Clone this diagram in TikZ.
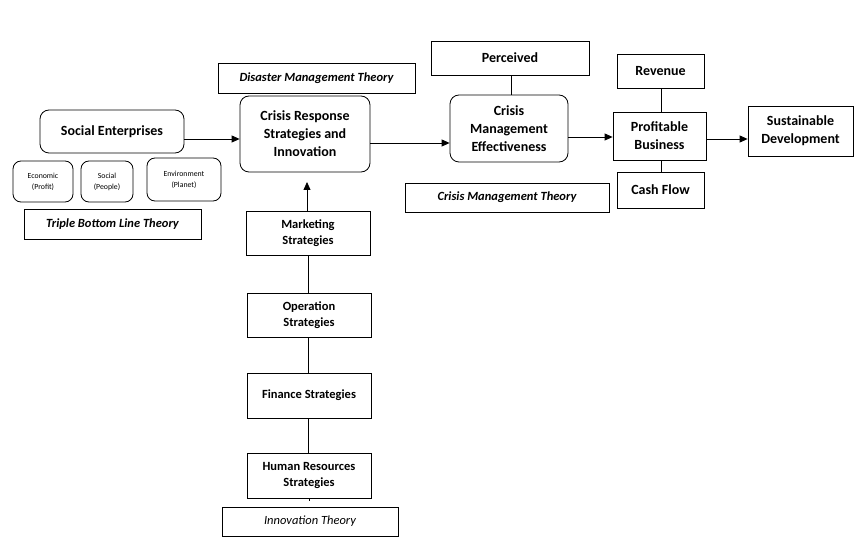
\documentclass[tikz,border=0pt]{standalone}
\usepackage{fontspec}
\setmainfont{Carlito}
\usetikzlibrary{arrows.meta}
\begin{document}
\begin{tikzpicture}[x=1pt,y=-1pt,
  box/.style={draw,line width=0.8pt,inner sep=0pt,align=center,font=\fontsize{14}{18}\selectfont\bfseries},
  rbox/.style={box,rounded corners=9pt},
  sbox/.style={draw,line width=0.8pt,inner sep=0pt,align=center,rounded corners=8pt,font=\fontsize{7.8}{11}\selectfont},
  mbox/.style={box,font=\fontsize{12.5}{16}\selectfont\bfseries},
  theory/.style={draw,line width=0.8pt,inner sep=0pt,align=center,font=\fontsize{12.5}{15}\selectfont\bfseries\itshape},
  lnk/.style={line width=0.8pt},
  arr/.style={line width=0.8pt,-{Triangle[length=8pt,width=7pt]}}]
\useasboundingbox (0,0) rectangle (854,537);
% left group
\node[rbox,minimum width=144pt,minimum height=43pt] (SE) at (112,131.5) {Social Enterprises};
\node[sbox,minimum width=60pt,minimum height=41pt] (eco) at (43,181.5) {Economic\\(Profit)};
\node[sbox,minimum width=52pt,minimum height=41pt] (soc) at (107,181.5) {Social\\(People)};
\node[sbox,minimum width=74pt,minimum height=43pt] (env) at (184,179.5) {Environment\\(Planet)};
\node[theory,minimum width=177pt,minimum height=30pt] (tbl) at (112.5,224) {Triple Bottom Line Theory};
% crisis response
\node[theory,minimum width=197pt,minimum height=30pt] (dmt) at (316.5,78) {Disaster Management Theory};
\node[rbox,minimum width=130pt,minimum height=76pt] (CRS) at (305,134) {Crisis Response\\Strategies and\\Innovation};
% effectiveness
\node[box,minimum width=158pt,minimum height=34pt] (per) at (510,58) {Perceived};
\node[rbox,minimum width=118pt,minimum height=67pt] (CME) at (509,128.5) {Crisis\\Management\\Effectiveness};
\node[theory,minimum width=204pt,minimum height=29pt] (cmt) at (507,197.5) {Crisis Management Theory};
% profitable
\node[box,minimum width=87pt,minimum height=34pt] (rev) at (660.5,71) {Revenue};
\node[box,minimum width=93pt,minimum height=48pt] (PB) at (659.5,136) {Profitable\\Business};
\node[box,minimum width=87pt,minimum height=36pt] (cf) at (660.5,190) {Cash Flow};
\node[box,minimum width=105pt,minimum height=50pt] (SD) at (800.5,131) {Sustainable\\Development};
% strategies
\node[mbox,minimum width=124pt,minimum height=44pt] (mkt) at (308,233) {Marketing\\Strategies};
\node[mbox,minimum width=124pt,minimum height=44pt] (op) at (309,315) {Operation\\Strategies};
\node[mbox,minimum width=124pt,minimum height=45pt] (fin) at (309,395.5) {Finance Strategies};
\node[mbox,minimum width=124pt,minimum height=45pt] (hr) at (309,475.5) {Human Resources\\Strategies};
\node[theory,font=\fontsize{12.5}{15}\selectfont\itshape,minimum width=176pt,minimum height=29pt] (inn) at (310,521.5) {Innovation Theory};
% connectors
\coordinate (crsTip) at (307,182);
\coordinate (hrStub) at (309,501);
\draw[arr] (SE.east |- 0,139) -- (CRS.west |- 0,139);
\draw[arr] (CRS.east |- 0,143) -- (CME.west |- 0,143);
\draw[arr] (CME.east |- 0,137) -- (PB.west |- 0,137);
\draw[arr] (PB.east |- 0,139) -- (SD.west |- 0,139);
\draw[lnk] (per.south -| 511,0) -- (CME.north -| 511,0);
\draw[lnk] (rev.south -| 661,0) -- (PB.north -| 661,0);
\draw[lnk] (PB.south -| 661,0) -- (cf.north -| 661,0);
\draw[arr] (mkt.north -| 307,0) -- (crsTip);
\draw[lnk] (mkt.south -| 308,0) -- (op.north -| 308,0);
\draw[lnk] (op.south -| 308,0) -- (fin.north -| 308,0);
\draw[lnk] (fin.south -| 308,0) -- (hr.north -| 308,0);
\draw[lnk] (hr.south -| 309,0) -- (hrStub);
\end{tikzpicture}
\end{document}
